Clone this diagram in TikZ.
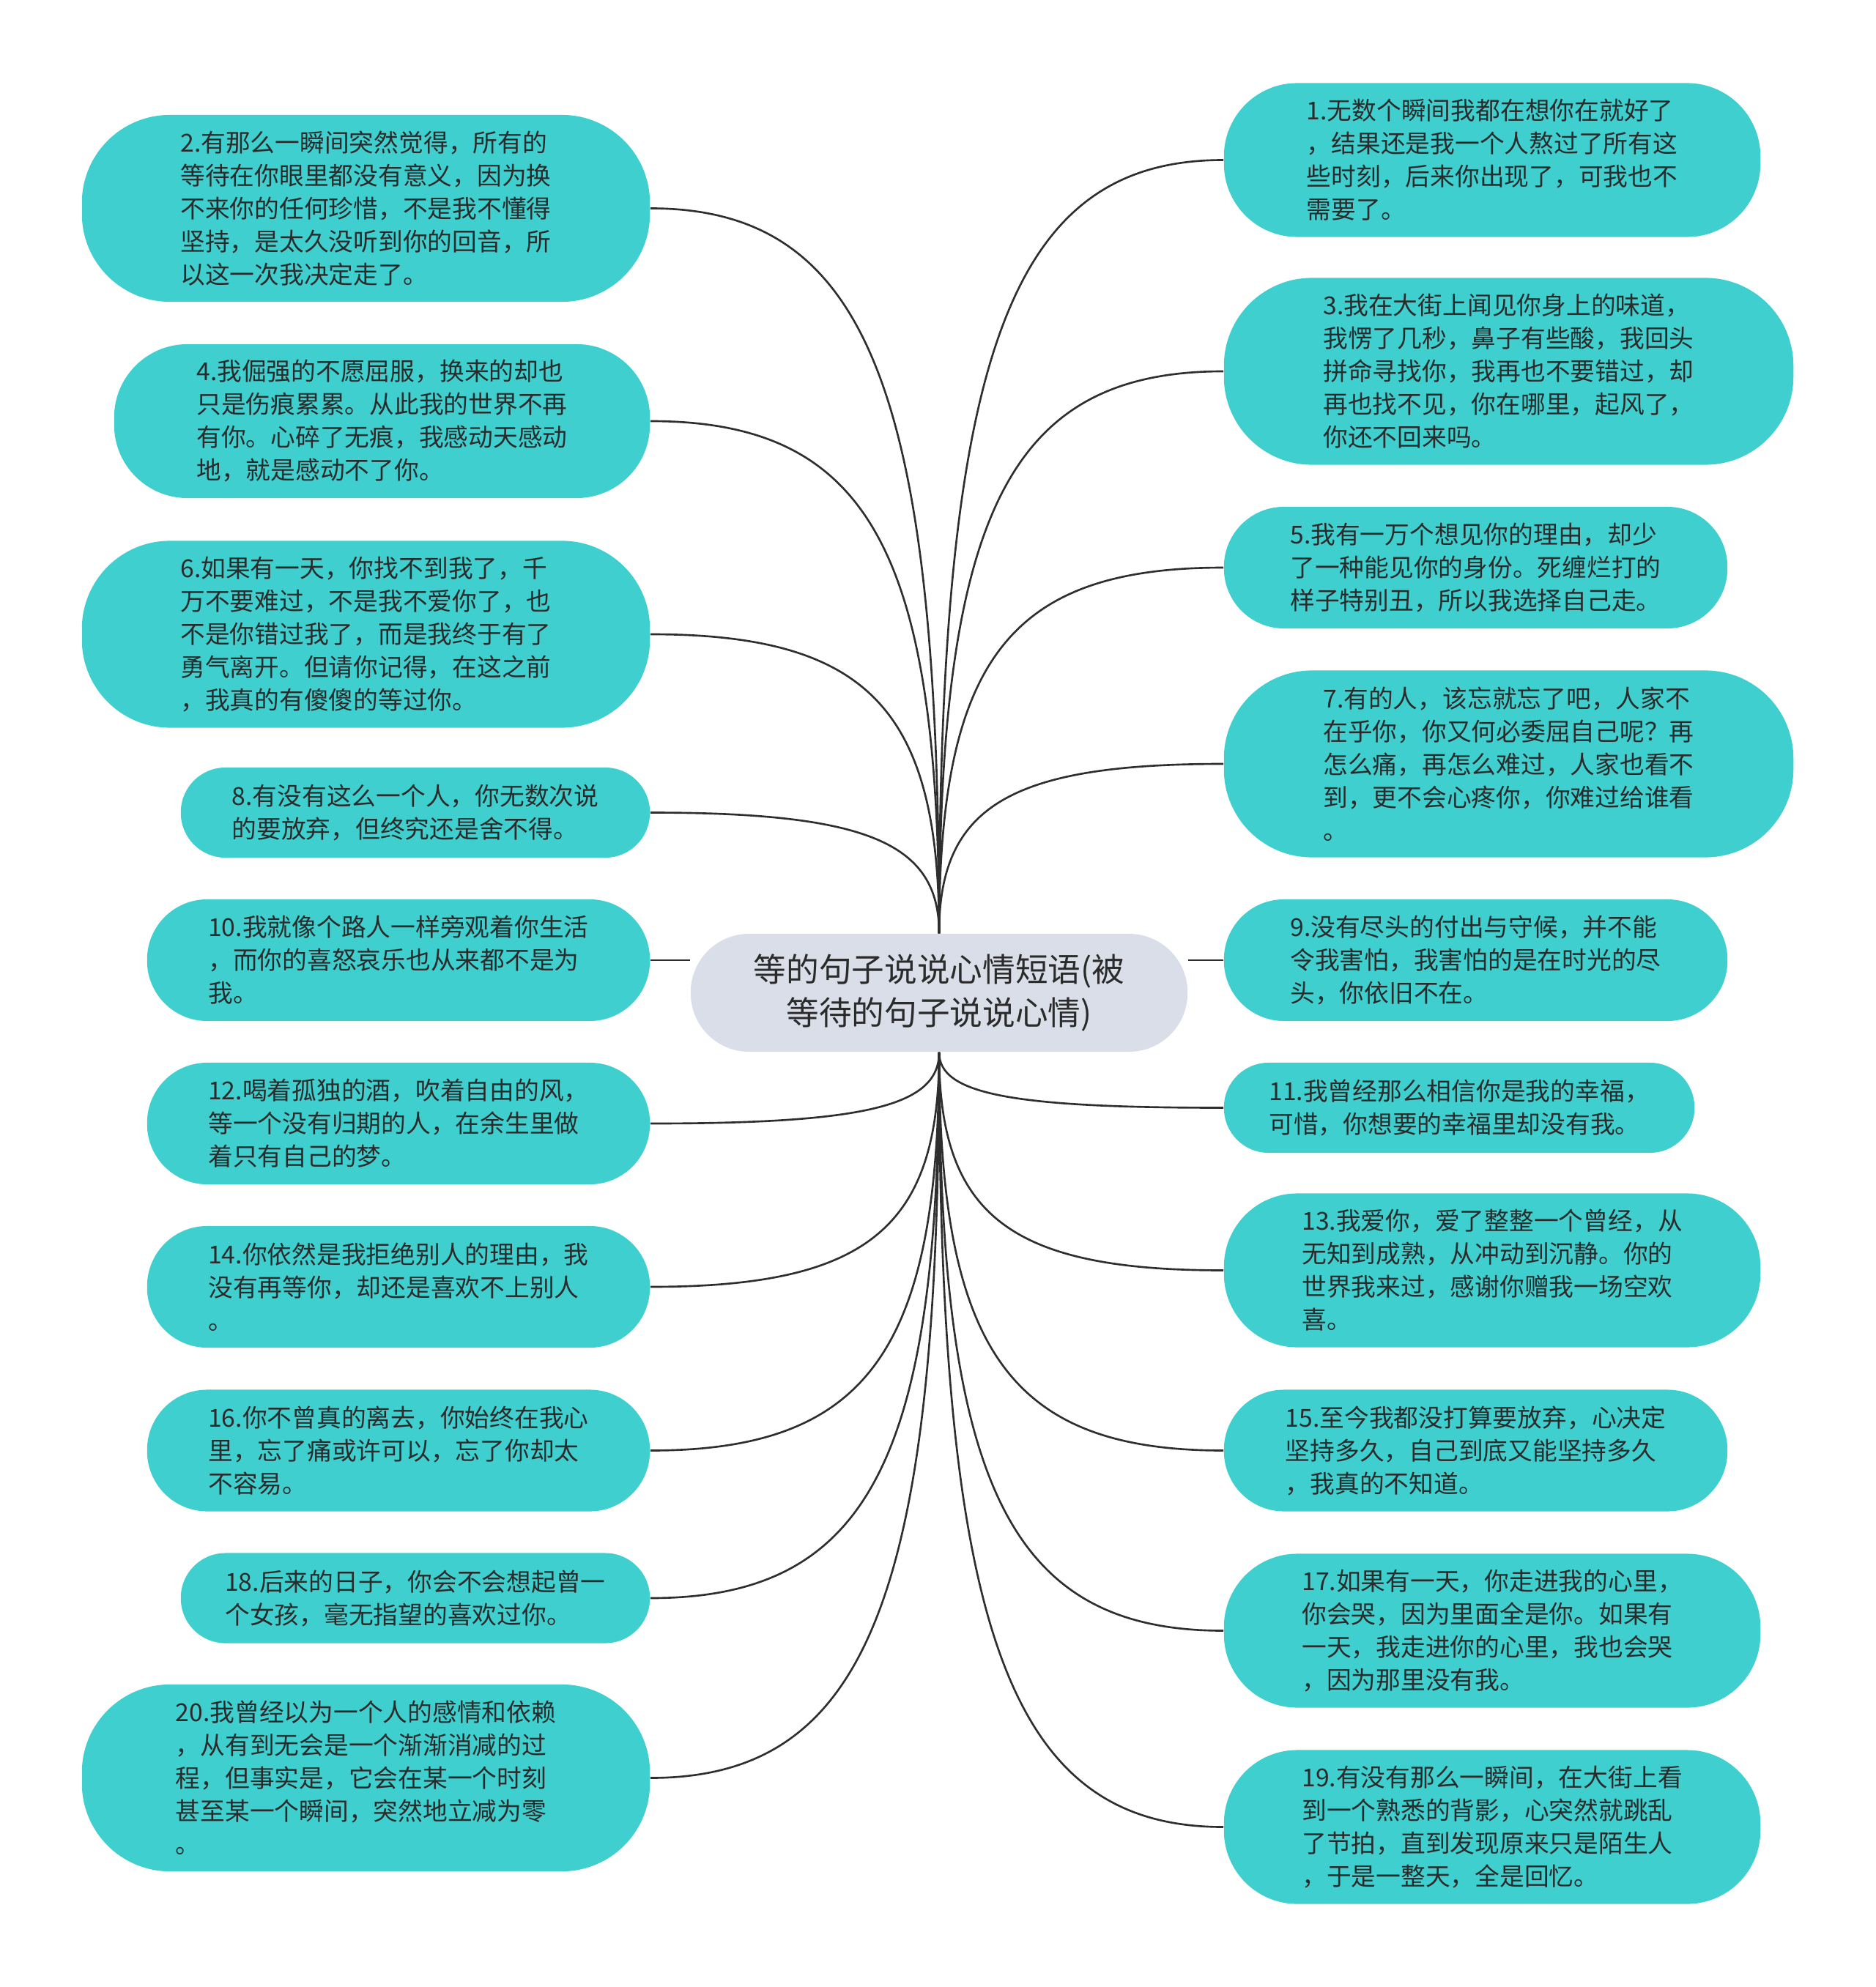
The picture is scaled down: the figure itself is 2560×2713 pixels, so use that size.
\documentclass[tikz,border=0pt]{standalone}
\usepackage{fontspec}
\setmainfont{Noto Sans CJK SC}
\usetikzlibrary{calc,backgrounds}
\definecolor{leafteal}{HTML}{3FCFCF}
\definecolor{hubgray}{HTML}{D9DEE8}
\definecolor{inkgray}{HTML}{2B2B2B}
\definecolor{linegray}{HTML}{2E2E2E}

\begin{document}
\begin{tikzpicture}[
    x=0.01cm, y=-0.01cm,
    leaf/.style={fill=leafteal,text=inkgray,align=left,inner sep=0pt,font=\fontsize{9.6pt}{12.8pt}\selectfont},
    h2/.style={minimum height=1.23cm,rounded corners=0.61cm},
    h3/.style={minimum height=1.66cm,rounded corners=0.82cm},
    h4/.style={minimum height=2.1cm,rounded corners=1.0cm},
    h5/.style={minimum height=2.55cm,rounded corners=1.2cm},
    hub/.style={fill=hubgray,text=inkgray,align=center,inner sep=0pt,minimum width=6.78cm,minimum height=1.61cm,rounded corners=0.8cm,font=\fontsize{12.7pt}{16.7pt}\selectfont},
    link/.style={draw=linegray,line width=0.75pt},
    spoke/.style={to path={.. controls ($(\tikztostart)!0.75!(\tikztostart |- \tikztotarget)$) and ($(\tikztostart |- \tikztotarget)!0.25!(\tikztotarget)$) .. (\tikztotarget)}}
]
\useasboundingbox (0,0) rectangle (2560,2713);

% Centre topic
\node[hub] (hub) at (1282,1355.5) {等的句子说说心情短语(被\\等待的句子说说心情)};

% Left column
\node[leaf,h5,minimum width=7.75cm] (n2) at (499.5,284.5) {2.有那么一瞬间突然觉得，所有的\\等待在你眼里都没有意义，因为换\\不来你的任何珍惜，不是我不懂得\\坚持，是太久没听到你的回音，所\\以这一次我决定走了。};
\node[leaf,h4,minimum width=7.31cm] (n4) at (521.5,575) {4.我倔强的不愿屈服，换来的却也\\只是伤痕累累。从此我的世界不再\\有你。心碎了无痕，我感动天感动\\地，就是感动不了你。};
\node[leaf,h5,minimum width=7.75cm] (n6) at (499.5,866) {6.如果有一天，你找不到我了，千\\万不要难过，不是我不爱你了，也\\不是你错过我了，而是我终于有了\\勇气离开。但请你记得，在这之前\\，我真的有傻傻的等过你。};
\node[leaf,h2,minimum width=6.4cm] (n8) at (567,1109.5) {8.有没有这么一个人，你无数次说\\的要放弃，但终究还是舍不得。};
\node[leaf,h3,minimum width=6.86cm] (n10) at (544,1311) {10.我就像个路人一样旁观着你生活\\，而你的喜怒哀乐也从来都不是为\\我。};
\node[leaf,h3,minimum width=6.86cm] (n12) at (544,1534) {12.喝着孤独的酒，吹着自由的风，\\等一个没有归期的人，在余生里做\\着只有自己的梦。};
\node[leaf,h3,minimum width=6.86cm] (n14) at (544,1757) {14.你依然是我拒绝别人的理由，我\\没有再等你，却还是喜欢不上别人\\。};
\node[leaf,h3,minimum width=6.86cm] (n16) at (544,1980.5) {16.你不曾真的离去，你始终在我心\\里，忘了痛或许可以，忘了你却太\\不容易。};
\node[leaf,h2,minimum width=6.4cm] (n18) at (567,2182) {18.后来的日子，你会不会想起曾一\\个女孩，毫无指望的喜欢过你。};
\node[leaf,h5,minimum width=7.75cm] (n20) at (499.5,2427.5) {20.我曾经以为一个人的感情和依赖\\，从有到无会是一个渐渐消减的过\\程，但事实是，它会在某一个时刻\\甚至某一个瞬间，突然地立减为零\\。};

% Right column
\node[leaf,h4,minimum width=7.32cm] (n1) at (2037,218.5) {1.无数个瞬间我都在想你在就好了\\，结果还是我一个人熬过了所有这\\些时刻，后来你出现了，可我也不\\需要了。};
\node[leaf,h5,minimum width=7.77cm] (n3) at (2059.5,507) {3.我在大街上闻见你身上的味道，\\我愣了几秒，鼻子有些酸，我回头\\拼命寻找你，我再也不要错过，却\\再也找不见，你在哪里，起风了，\\你还不回来吗。};
\node[leaf,h3,minimum width=6.87cm] (n5) at (2014.5,775) {5.我有一万个想见你的理由，却少\\了一种能见你的身份。死缠烂打的\\样子特别丑，所以我选择自己走。};
\node[leaf,h5,minimum width=7.77cm] (n7) at (2059.5,1043) {7.有的人，该忘就忘了吧，人家不\\在乎你，你又何必委屈自己呢？再\\怎么痛，再怎么难过，人家也看不\\到，更不会心疼你，你难过给谁看\\。};
\node[leaf,h3,minimum width=6.87cm] (n9) at (2014.5,1311) {9.没有尽头的付出与守候，并不能\\令我害怕，我害怕的是在时光的尽\\头，你依旧不在。};
\node[leaf,h2,minimum width=6.42cm] (n11) at (1992,1512.5) {11.我曾经那么相信你是我的幸福，\\可惜，你想要的幸福里却没有我。};
\node[leaf,h4,minimum width=7.32cm] (n13) at (2037,1734.5) {13.我爱你，爱了整整一个曾经，从\\无知到成熟，从冲动到沉静。你的\\世界我来过，感谢你赠我一场空欢\\喜。};
\node[leaf,h3,minimum width=6.87cm] (n15) at (2014.5,1980.5) {15.至今我都没打算要放弃，心决定\\坚持多久，自己到底又能坚持多久\\，我真的不知道。};
\node[leaf,h4,minimum width=7.32cm] (n17) at (2037,2226.5) {17.如果有一天，你走进我的心里，\\你会哭，因为里面全是你。如果有\\一天，我走进你的心里，我也会哭\\，因为那里没有我。};
\node[leaf,h4,minimum width=7.32cm] (n19) at (2037,2494.5) {19.有没有那么一瞬间，在大街上看\\到一个熟悉的背影，心突然就跳乱\\了节拍，直到发现原来只是陌生人\\，于是一整天，全是回忆。};

% Connectors
\begin{pgfonlayer}{background}
\draw[link] (hub.north) to[spoke] (n2.east);
\draw[link] (hub.north) to[spoke] (n4.east);
\draw[link] (hub.north) to[spoke] (n6.east);
\draw[link] (hub.north) to[spoke] (n8.east);
\draw[link] (n10.east) -- (n10.east -| hub.west);
\draw[link] (hub.south) to[spoke] (n12.east);
\draw[link] (hub.south) to[spoke] (n14.east);
\draw[link] (hub.south) to[spoke] (n16.east);
\draw[link] (hub.south) to[spoke] (n18.east);
\draw[link] (hub.south) to[spoke] (n20.east);
\draw[link] (hub.north) to[spoke] (n1.west);
\draw[link] (hub.north) to[spoke] (n3.west);
\draw[link] (hub.north) to[spoke] (n5.west);
\draw[link] (hub.north) to[spoke] (n7.west);
\draw[link] (n9.west) -- (n9.west -| hub.east);
\draw[link] (hub.south) to[spoke] (n11.west);
\draw[link] (hub.south) to[spoke] (n13.west);
\draw[link] (hub.south) to[spoke] (n15.west);
\draw[link] (hub.south) to[spoke] (n17.west);
\draw[link] (hub.south) to[spoke] (n19.west);
\end{pgfonlayer}
\end{tikzpicture}
\end{document}
